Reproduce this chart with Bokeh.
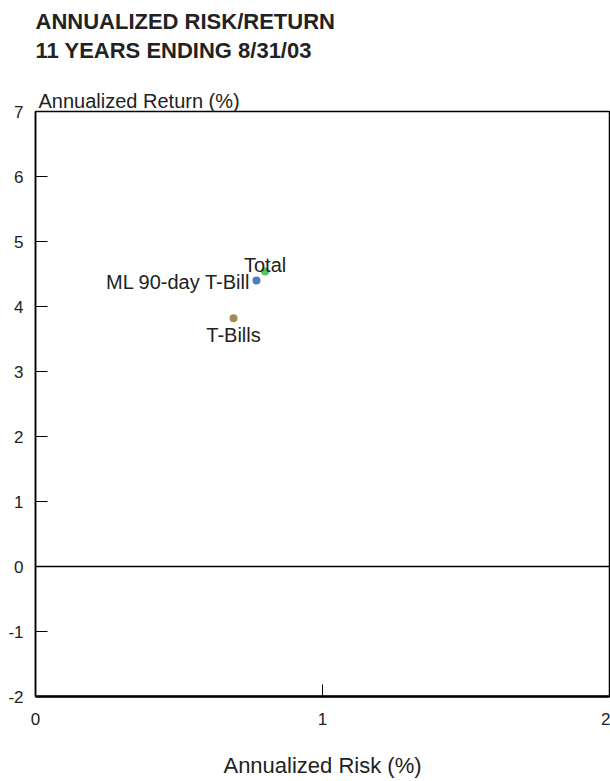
from bokeh.plotting import figure
from bokeh.models import (ColumnDataSource, FixedTicker, Span, Title, CDSView,
                          IndexFilter, Range1d)
from bokeh.core.properties import value
from bokeh.embed import file_html
from bokeh.resources import INLINE

FONT = "Liberation Sans"

# ---- data ----
names = ["Total", "ML 90-day T-Bill", "T-Bills"]
risk = [0.80, 0.77, 0.69]
ret = [4.54, 4.40, 3.82]
colors = ["#4cc95c", "#4a7fc2", "#a08d50"]
x_ticks = [0, 1, 2]
x_tick_labels = ["0", "1", "2"]
y_ticks = [-2, -1, 0, 1, 2, 3, 4, 5, 6, 7]
y_tick_labels = ["-2", "-1", "0", "1", "2", "3", "4", "5", "6", "7"]
title_lines = ["ANNUALIZED RISK/RETURN", "11 YEARS ENDING 8/31/03"]
y_title = "Annualized Return (%)"
x_title = "Annualized Risk (%)"

source = ColumnDataSource(dict(x=risk, y=ret, name=names, color=colors))

p = figure(width=610, height=781, x_range=Range1d(0, 2), y_range=Range1d(-2, 7),
           output_backend="svg", toolbar_location=None,
           min_border_left=35, min_border_right=1,
           min_border_top=111, min_border_bottom=85)
p.grid.visible = False
p.outline_line_color = "black"
p.outline_line_width = 1.5
p.background_fill_color = "white"
p.border_fill_color = "white"

# axes
p.xaxis.ticker = FixedTicker(ticks=x_ticks)
p.yaxis.ticker = FixedTicker(ticks=y_ticks)
p.xaxis.major_label_overrides = dict(zip(x_ticks, x_tick_labels))
p.yaxis.major_label_overrides = dict(zip(y_ticks, y_tick_labels))
for ax in (p.xaxis, p.yaxis):
    ax.major_tick_in = 12
    ax.major_tick_out = 0
    ax.minor_tick_line_color = None
    ax.major_tick_line_color = "black"
    ax.major_tick_line_width = 1
    ax.axis_line_color = "black"
    ax.major_label_text_font = FONT
    ax.major_label_text_font_size = "17px"
    ax.major_label_text_color = "#222222"
p.xaxis.axis_line_width = 2.5
p.yaxis.axis_line_width = 1.5
p.xaxis.major_label_standoff = 16
p.yaxis.major_label_standoff = 12
p.xaxis.axis_label = x_title
p.xaxis.axis_label_text_font = FONT
p.xaxis.axis_label_text_font_size = "22px"
p.xaxis.axis_label_text_font_style = "normal"
p.xaxis.axis_label_text_color = "#222222"
p.xaxis.axis_label_standoff = 25

# zero line
p.add_layout(Span(location=0, dimension="width", line_color="black", line_width=1.5))

# points
p.scatter("x", "y", source=source, size=8, color="color", line_color=None)

# labels
common = dict(source=source, text="name", text_font=value(FONT),
              text_font_size="20px", text_color="#222222")
p.text("x", "y", view=CDSView(filter=IndexFilter([0])), text_align="center",
       text_baseline="alphabetic", y_offset=-6, **common)
p.text("x", "y", view=CDSView(filter=IndexFilter([1])), text_align="right",
       text_baseline="alphabetic", x_offset=-6, y_offset=1, **common)
p.text("x", "y", view=CDSView(filter=IndexFilter([2])), text_align="center",
       text_baseline="top", y_offset=6, **common)

# titles above the frame (first added = closest to the frame)
p.add_layout(Title(text=y_title, align="left", offset=3, standoff=0,
                   text_font=FONT, text_font_size="20px", text_font_style="normal",
                   text_color="#222222"), "above")
p.add_layout(Title(text="\n".join(title_lines), align="left", offset=0, standoff=0,
                   text_line_height=1.14, padding=(0, 0, 0, 25),
                   text_font=FONT, text_font_size="22px", text_font_style="bold",
                   text_color="#222222"), "above")

open("out.html", "w").write(file_html(p, INLINE))
